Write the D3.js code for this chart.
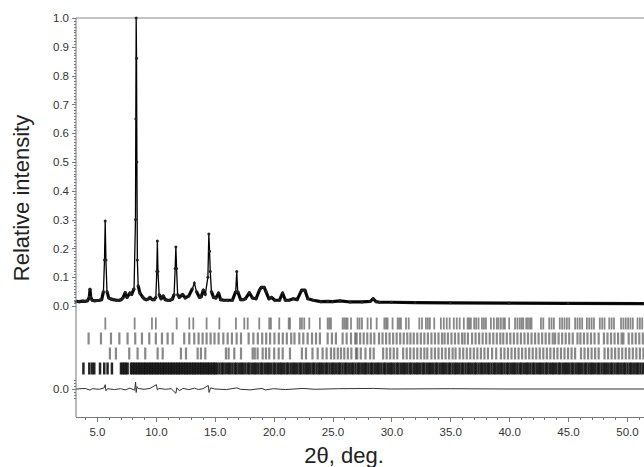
<html>
<head>
<style>
  body{margin:0;background:#fff}
  .chart text{font-family:"Liberation Sans",Arial,sans-serif;fill:#333}
  .chart .tick text{font-size:11.5px}
  .chart .axis path,.chart .axis line{stroke:#777;shape-rendering:crispEdges}
  .chart .title{font-size:22px;fill:#222}
</style>
</head>
<body>
<div id="xrd"></div>
<script src="https://d3js.org/d3.v7.min.js"></script>
<script>
(function () {

  // observed pattern, [2theta, relative intensity]
  var obs = [
    [3.22,0.016],[3.5,0.015],[3.8,0.017],[4.0,0.016],[4.2,0.018],[4.35,0.03],[4.41,0.058],[4.47,0.03],[4.6,0.02],
    [4.8,0.018],[5.0,0.019],[5.2,0.02],[5.4,0.022],[5.55,0.05],[5.64,0.16],[5.7,0.295],[5.76,0.16],[5.85,0.05],
    [6.0,0.028],[6.2,0.024],[6.4,0.022],[6.65,0.02],[6.9,0.02],[7.05,0.022],[7.2,0.028],[7.4,0.046],[7.55,0.03],
    [7.8,0.045],[7.95,0.04],[8.15,0.06],[8.27,0.3],[8.3,0.65],[8.33,1.0],[8.36,0.86],[8.39,0.5],[8.43,0.16],
    [8.5,0.07],[8.65,0.045],[8.9,0.03],[9.05,0.024],[9.2,0.022],[9.35,0.024],[9.5,0.03],[9.7,0.022],[9.85,0.022],
    [10.0,0.03],[10.08,0.12],[10.13,0.226],[10.18,0.12],[10.28,0.04],[10.45,0.025],[10.63,0.035],[10.8,0.022],
    [11.0,0.02],[11.2,0.02],[11.4,0.024],[11.55,0.04],[11.64,0.13],[11.7,0.205],[11.76,0.13],[11.85,0.04],
    [12.0,0.03],[12.27,0.04],[12.5,0.028],[12.8,0.035],[13.1,0.06],[13.27,0.08],[13.45,0.05],[13.7,0.03],
    [13.85,0.032],[14.03,0.055],[14.2,0.04],[14.42,0.1],[14.5,0.25],[14.56,0.19],[14.62,0.12],[14.72,0.05],
    [14.9,0.03],[15.1,0.028],[15.33,0.045],[15.5,0.022],[15.8,0.02],[16.1,0.02],[16.5,0.02],[16.78,0.05],
    [16.87,0.12],[16.95,0.05],[17.2,0.022],[17.4,0.022],[17.6,0.025],[17.94,0.046],[18.2,0.028],[18.5,0.025],
    [18.8,0.055],[18.95,0.065],[19.2,0.065],[19.35,0.05],[19.6,0.025],[19.83,0.03],[20.1,0.02],[20.5,0.02],
    [20.76,0.045],[21.0,0.02],[21.3,0.02],[21.67,0.025],[22.0,0.022],[22.38,0.055],[22.66,0.055],[22.9,0.025],
    [23.37,0.02],[24.0,0.015],[24.6,0.016],[25.0,0.015],[25.63,0.018],[26.5,0.014],[27.5,0.014],[28.2,0.016],
    [28.46,0.025],[28.7,0.015],[29.0,0.013],[30.0,0.013],[32.0,0.012],[35.0,0.011],[40.0,0.01],[45.0,0.009],
    [51.45,0.008]
  ];

  // observed - calculated
  var diff = [
    [3.22,0],[4.0,0.002],[4.41,-0.004],[4.6,0.001],[5.2,-0.001],[5.62,0.004],[5.7,0.015],[5.76,-0.006],
    [5.9,0.001],[6.5,-0.002],[7.0,0.001],[7.4,-0.003],[7.8,0.003],[8.2,-0.004],[8.28,0.024],[8.33,-0.012],
    [8.4,0.008],[8.5,0.002],[9.0,-0.001],[9.5,0.002],[10.05,0.015],[10.13,-0.004],[10.25,0.002],[10.8,-0.001],
    [11.3,0.001],[11.7,-0.015],[11.78,0.004],[12.0,-0.006],[12.3,0.002],[12.8,-0.002],[13.3,0.003],[13.6,-0.002],
    [14.0,0.001],[14.45,0.012],[14.52,-0.012],[14.65,0.004],[15.0,0],[16.0,-0.002],[16.87,0.004],[17.2,-0.001],
    [18.0,-0.003],[19.0,0.002],[19.3,-0.003],[20.0,0.001],[21.0,-0.002],[22.5,0.002],[23.5,-0.001],[25.5,0.001],
    [28.5,0.002],[30,0],[35,0.001],[40,0],[51.45,0]
  ];

  // reflection positions, one list per phase
  var phase1 = [5.71,8.2,9.67,10.0,11.77,12.84,13.18,14.31,15.39,16.8,17.51,17.8,18.78,19.63,19.77,20.48,21.28,21.39,
    22.24,22.4,22.6,23.03,23.93,24.59,24.73,24.87,25.86,26.0,26.15,26.28,26.57,27.13,27.3,27.5,27.98,28.26,28.75,
    29.4,29.55,29.68,30.1,30.53,30.67,30.81,31.24,31.47,32.37,32.6,32.93,33.1,33.27,33.64,34.2,34.45,34.7,34.95,
    35.3,35.55,35.8,36.15,36.47,36.6,36.75,37.03,37.2,37.4,37.69,37.86,38.03,38.45,38.7,38.95,39.1,39.3,39.5,39.64,
    40.0,40.5,40.7,40.9,41.06,41.2,41.45,41.6,41.77,41.9,42.7,42.9,43.4,43.6,43.8,44.3,44.5,44.7,44.9,45.1,45.6,
    45.8,46.0,46.2,46.6,46.8,47.0,47.2,47.7,47.9,48.1,48.5,48.7,48.9,49.5,49.7,49.9,50.1,50.3,50.5,50.9,51.1,51.3];
  var phase2 = [4.29,5.34,6.19,6.9,7.6,8.25,8.82,9.44,10.0,10.52,11.0,11.43,12.41,12.84,13.26,13.63,13.97,14.31,
    14.65,14.98,15.33,15.73,16.1,16.46,16.86,17.23,17.88,18.28,18.66,19.03,19.37,19.7,20.07,20.44,20.78,21.12,
    21.49,21.77,22.18,22.52,22.89,23.26,23.6,23.93,24.59,24.95,25.29,25.86,26.2,26.57,26.93,27.05,27.35,27.65,
    27.95,28.25,28.55,28.95,29.25,29.55,29.85,30.15,30.45,30.75,31.05,31.35,31.62,31.9,32.2,32.5,32.8,33.1,33.4,
    33.7,34.0,34.3,34.52,34.8,35.1,35.4,35.7,36.0,36.22,36.5,36.85,37.15,37.45,37.75,38.05,38.35,38.65,38.95,
    39.25,39.5,39.8,40.1,40.4,40.7,41.0,41.3,41.6,41.9,42.2,42.5,42.8,43.1,43.4,43.7,43.9,44.2,44.5,44.8,45.1,
    45.4,45.8,46.05,46.35,46.65,46.95,47.25,47.6,48.05,48.35,48.65,48.95,49.25,49.55,49.7,50.15,50.45,50.75,
    51.05,51.35];
  var phase3 = [6.1,6.61,7.74,8.45,9.1,10.15,10.58,12.13,12.56,13.55,13.83,14.2,15.95,16.18,16.66,17.23,18.22,
    18.4,18.64,19.07,19.35,19.63,20.05,20.43,20.77,21.39,22.4,22.75,23.3,23.74,24.16,24.5,24.87,25.15,25.45,
    25.72,26.0,26.3,26.6,26.99,27.1,27.4,27.8,28.2,28.5,29.3,29.6,29.9,30.2,30.5,31.0,31.3,31.6,31.9,32.2,32.5,
    32.8,33.05,33.4,33.7,34.0,34.3,34.6,34.9,35.2,35.45,35.8,36.1,36.4,36.7,37.0,37.3,37.6,37.9,38.2,38.55,38.9,
    39.3,39.6,39.9,40.2,40.5,40.8,41.1,41.4,41.7,42.0,42.3,42.6,42.9,43.2,43.5,43.8,44.1,44.4,44.7,45.0,45.3,
    45.6,46.1,46.4,46.7,47.0,47.3,47.6,48.1,48.4,48.7,49.0,49.3,49.6,49.9,50.2,50.5,50.8,51.1,51.4];
  var phase4 = [3.85,4.35,4.58,4.77,5.26,5.62,5.9,6.27,7.04,7.18,7.32,7.46,7.6,7.89,8.02,8.16,8.3,8.44,8.58,8.7,
    8.84,8.98,9.1,9.24,9.38,9.52,9.64,9.78,9.92,10.05,10.18,10.32,10.46,10.6,10.72,10.86,11.0,11.14,11.28,11.4,
    11.54,11.68,11.82,11.95,12.08,12.22,12.36,12.5,12.62,12.76,12.9,13.04,13.18,13.3,13.44,13.58,13.72,13.85,
    13.98,14.12,14.26,14.4,14.52,14.66,14.8,14.94,15.05,15.2,15.4,15.6,15.75,15.95,16.15,16.3,16.5,16.7,16.85,
    17.05,17.25,17.4,17.6,17.8,17.95,18.15,18.35,18.5,18.7,18.9,19.05,19.25,19.45,19.6,19.8,20.0,20.15,20.35,
    20.55,20.7,20.9,21.1,21.25,21.45,21.65,21.8,22.0,22.2,22.35,22.55,22.75,22.9,23.1,23.3,23.45,23.65,23.85,
    24.0,24.2,24.4,24.55,24.75,24.95,25.1,25.3,25.5,25.65,25.85,26.05,26.2,26.4,26.6,26.75,26.95,27.15,27.3,
    27.5,27.7,27.85,28.05,28.25,28.4,28.6,28.8,28.95,29.15,29.35,29.5,29.7,29.9,30.05,30.25,30.45,30.6,30.8,
    31.0,31.15,31.35,31.55,31.7,31.9,32.1,32.25,32.45,32.65,32.8,33.0,33.2,33.35,33.55,33.75,33.9,34.1,34.3,
    34.45,34.65,34.85,35.0,35.2,35.4,35.55,35.75,35.95,36.1,36.3,36.5,36.65,36.85,37.05,37.2,37.4,37.6,37.75,
    37.95,38.15,38.3,38.5,38.7,38.85,39.05,39.25,39.4,39.6,39.8,39.95,40.15,40.35,40.5,40.7,40.9,41.05,41.25,
    41.45,41.6,41.8,42.0,42.15,42.35,42.55,42.7,42.9,43.1,43.25,43.45,43.65,43.8,44.0,44.2,44.35,44.55,44.75,
    44.9,45.1,45.3,45.45,45.65,45.85,46.0,46.2,46.4,46.55,46.75,46.95,47.1,47.3,47.5,47.65,47.85,48.05,48.2,
    48.4,48.6,48.75,48.95,49.15,49.3,49.5,49.7,49.85,50.05,50.25,50.4,50.6,50.8,50.95,51.15,51.35];
  var phases = [phase1, phase2, phase3, phase4];

  var xTicks = [5, 10, 15, 20, 25, 30, 35, 40, 45, 50];
  var yTicks = [0, 0.1, 0.2, 0.3, 0.4, 0.5, 0.6, 0.7, 0.8, 0.9, 1.0];

  var
    width  = 644,
    height = 467,
    left   = 76,
    top    = 18,
    bottom = 417;

  var xScale = d3.scaleLinear().domain([3.22, 51.45]).range([left, width]);
  var yScale = d3.scaleLinear().domain([0, 1]).range([306, top]);
  var dScale = d3.scaleLinear().domain([-0.1, 0.1]).range([389 + 28.8, 389 - 28.8]);
  var rowScale = d3.scaleBand().domain([0, 1, 2, 3]).range([316, 376]).paddingInner(0.2).paddingOuter(0.1);

  var svg = d3.select('#xrd').append('svg')
    .attr('class', 'chart')
    .attr('width', width)
    .attr('height', height);

  svg.append('rect').attr('width', width).attr('height', height).attr('fill', '#fff');

  // top frame line
  svg.append('line')
    .attr('x1', left).attr('x2', width)
    .attr('y1', top).attr('y2', top)
    .attr('stroke', '#888');

  // reflection tick rows
  phases.forEach(function (list, r) {
    svg.append('g').selectAll('line')
      .data(list)
      .join('line')
      .attr('x1', function (d) { return xScale(d); })
      .attr('x2', function (d) { return xScale(d); })
      .attr('y1', rowScale(r))
      .attr('y2', rowScale(r) + rowScale.bandwidth())
      .attr('stroke', r === 3 ? '#111' : '#555')
      .attr('stroke-opacity', r === 3 ? 0.92 : 0.7)
      .attr('stroke-width', r === 3 ? 2.5 : (r === 0 ? 1.8 : 2.2));
  });

  // difference curve
  var dline = d3.line()
    .x(function (d) { return xScale(d[0]); })
    .y(function (d) { return dScale(d[1]); });
  svg.append('path')
    .attr('d', dline(diff))
    .attr('fill', 'none')
    .attr('stroke', '#333')
    .attr('stroke-width', 1);

  // observed points merge into a heavy band along the background
  var base = d3.line()
    .defined(function (d) { return d[1] <= 0.07; })
    .x(function (d) { return xScale(d[0]); })
    .y(function (d) { return yScale(d[1]); });
  svg.append('path')
    .attr('d', base(obs))
    .attr('fill', 'none')
    .attr('stroke', '#111')
    .attr('stroke-width', 3.2)
    .attr('stroke-linejoin', 'round');

  // calculated line
  var line = d3.line()
    .x(function (d) { return xScale(d[0]); })
    .y(function (d) { return yScale(d[1]); });
  svg.append('path')
    .attr('d', line(obs))
    .attr('fill', 'none')
    .attr('stroke', '#000')
    .attr('stroke-width', 1.3);

  // observed markers
  svg.append('g').selectAll('circle')
    .data(obs)
    .join('circle')
    .attr('cx', function (d) { return xScale(d[0]); })
    .attr('cy', function (d) { return yScale(d[1]); })
    .attr('r', 1.5)
    .attr('fill', '#222')
    .attr('stroke', 'none');

  // left axis, one line top to bottom
  svg.append('line')
    .attr('x1', left).attr('x2', left)
    .attr('y1', top).attr('y2', bottom)
    .attr('stroke', '#777');

  var yAxis = svg.append('g')
    .attr('class', 'axis')
    .attr('transform', 'translate(' + left + ',0)')
    .call(d3.axisLeft(yScale).tickValues(yTicks).tickSize(4).tickPadding(3)
      .tickFormat(d3.format('.1f')));
  yAxis.select('.domain').remove();

  svg.append('g')
    .attr('class', 'axis')
    .attr('transform', 'translate(' + left + ',0)')
    .call(d3.axisLeft(yScale).tickValues(d3.range(0, 101).map(function (i) { return i / 100; }))
      .tickSize(2).tickFormat(''))
    .select('.domain').remove();

  // zero of difference curve
  var dAxis = svg.append('g')
    .attr('class', 'axis')
    .attr('transform', 'translate(' + left + ',0)')
    .call(d3.axisLeft(dScale).tickValues([0]).tickSize(4).tickPadding(3)
      .tickFormat(d3.format('.1f')));
  dAxis.select('.domain').remove();
  svg.append('g')
    .attr('class', 'axis')
    .attr('transform', 'translate(' + left + ',0)')
    .call(d3.axisLeft(dScale).tickValues([-0.03, -0.02, -0.01, 0.01, 0.02, 0.03]).tickSize(2).tickFormat(''))
    .select('.domain').remove();

  // bottom axis
  var xAxis = svg.append('g')
    .attr('class', 'axis')
    .attr('transform', 'translate(0,' + bottom + ')')
    .call(d3.axisBottom(xScale).tickValues(xTicks).tickSize(5).tickPadding(6)
      .tickFormat(d3.format('.1f')));
  xAxis.select('.domain').attr('d', 'M' + left + ',0H' + width);
  svg.append('g')
    .attr('class', 'axis')
    .attr('transform', 'translate(0,' + bottom + ')')
    .call(d3.axisBottom(xScale).tickValues(d3.range(4, 52)).tickSize(3).tickFormat(''))
    .select('.domain').remove();

  // axis titles
  svg.append('text')
    .attr('class', 'title')
    .attr('transform', 'translate(29,198) rotate(-90)')
    .attr('text-anchor', 'middle')
    .text('Relative intensity');

  svg.append('text')
    .attr('class', 'title')
    .attr('x', 344)
    .attr('y', 463)
    .attr('text-anchor', 'middle')
    .text('2θ, deg.');

})();
</script>
</body>
</html>
